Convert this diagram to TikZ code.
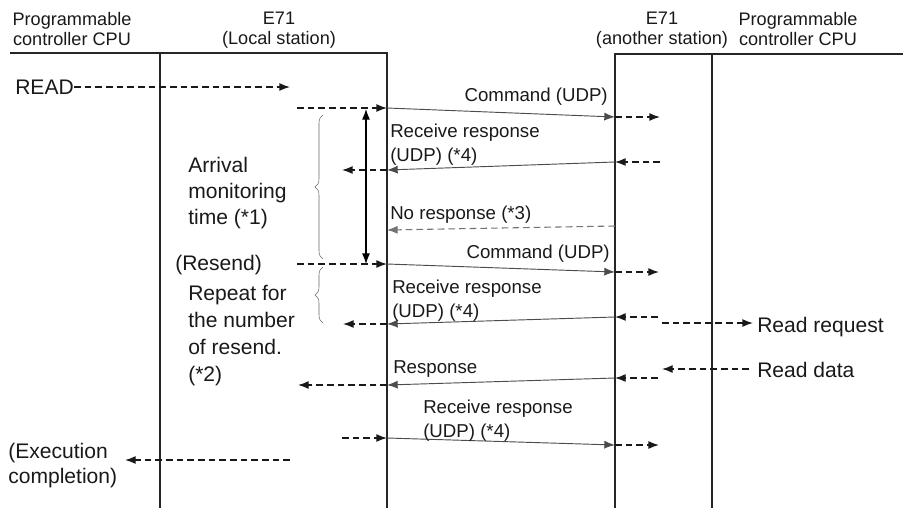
\documentclass[tikz,border=0pt]{standalone}
\usepackage{fontspec}
\setmainfont{Liberation Sans}
\usetikzlibrary{arrows.meta,decorations.pathreplacing}

\begin{document}
\begin{tikzpicture}[
x=0.75pt, y=-0.75pt,
>={Latex[length=8pt,width=6pt]},
every node/.style={inner sep=0pt, font=\fontsize{13.6}{15}\selectfont, text=black!90},
lifeline/.style={line width=2.2pt, black!85},
wire/.style={->, line width=0.7pt, black!70},
hop/.style={->, line width=1pt, dash pattern=on 5pt off 3pt, black!90},
lost/.style={hop, line width=0.8pt, black!55},
span/.style={decorate, decoration={brace, amplitude=6pt}, line width=0.4pt, black!60},
note/.style={align=left, font=\fontsize{15.8}{19.5}\selectfont},
label/.style={font=\fontsize{14}{15}\selectfont},
reply/.style={align=left, font=\fontsize{14}{18}\selectfont}
]
\useasboundingbox (0,0) rectangle (903,508);

% station headers
\node[align=center, anchor=north] (cpuL) at (72,12) {Programmable\\controller CPU};
\node[align=center, anchor=north] (local) at (279,12) {E71\\(Local station)};
\node[align=center, anchor=north] (other) at (662,12) {E71\\(another station)};
\node[align=center, anchor=north] (cpuR) at (798,12) {Programmable\\controller CPU};

% lifelines
\coordinate (barL) at (10,53);
\coordinate (locTop) at (387,53);
\coordinate (locBot) at (387,508);
\coordinate (cpuTop) at (160,53);
\coordinate (cpuBot) at (160,508);
\coordinate (othTop) at (615,54);
\coordinate (othBot) at (615,508);
\coordinate (barR) at (903,54);
\coordinate (remTop) at (712,54);
\coordinate (remBot) at (712,508);
\draw[lifeline] (barL) -- (locTop) -- (locBot);
\draw[lifeline] (cpuTop) -- (cpuBot);
\draw[lifeline] (othBot) -- (othTop) -- (barR);
\draw[lifeline] (remTop) -- (remBot);

% READ
\node[note, anchor=west] (read) at (15,87) {READ};
\coordinate (readTip) at (290,87);
\draw[hop] (read.east) -- (readTip);

% first command
\coordinate (cmdA) at (297,108);
\coordinate (cmdB) at (387,108);
\coordinate (cmdC) at (615,117);
\coordinate (cmdD) at (660,117);
\draw[hop] (cmdA) -- (cmdB);
\draw[wire] (cmdB) -- (cmdC);
\draw[hop] (cmdC) -- (cmdD);
\node[label, anchor=base east] (cmdText) at (608,101) {Command (UDP)};

% receive response
\coordinate (ackA) at (660,162);
\coordinate (ackB) at (615,162);
\coordinate (ackC) at (387,170);
\coordinate (ackD) at (342,170);
\draw[hop] (ackA) -- (ackB);
\draw[wire] (ackB) -- (ackC);
\draw[hop] (ackC) -- (ackD);
\node[reply, anchor=north west] (ackText) at (390,124) {Receive response\\(UDP) (*4)};

% arrival monitoring time
\coordinate (timeTop) at (366,109);
\coordinate (timeBot) at (366,264);
\draw[<->, line width=0.8pt] (timeTop) -- (timeBot);
\coordinate (braceTop) at (323,115);
\coordinate (braceBot) at (323,259);
\draw[span] (braceBot) -- (braceTop);
\node[note, anchor=north west] (arrival) at (188,157) {Arrival\\monitoring\\time (*1)};

% no response
\coordinate (lostA) at (615,226);
\coordinate (lostB) at (387,230);
\draw[lost] (lostA) -- (lostB);
\node[label, anchor=base west] (lostText) at (390,219) {No response (*3)};

% resend
\node[note, anchor=west] (resend) at (175,265) {(Resend)};
\coordinate (reA) at (297,264);
\coordinate (reB) at (387,264);
\coordinate (reC) at (615,272);
\coordinate (reD) at (659,272);
\draw[hop] (reA) -- (reB);
\draw[wire] (reB) -- (reC);
\draw[hop] (reC) -- (reD);
\node[label, anchor=base east] (reText) at (610,258) {Command (UDP)};

% receive response after resend
\coordinate (ack2A) at (658,317);
\coordinate (ack2B) at (615,317);
\coordinate (ack2C) at (387,324);
\coordinate (ack2D) at (343,324);
\draw[hop] (ack2A) -- (ack2B);
\draw[wire] (ack2B) -- (ack2C);
\draw[hop] (ack2C) -- (ack2D);
\node[reply, anchor=north west] (ack2Text) at (392,280) {Receive response\\(UDP) (*4)};
\coordinate (brace2Top) at (323,267);
\coordinate (brace2Bot) at (323,323);
\draw[span] (brace2Bot) -- (brace2Top);
\node[note, anchor=north west, font=\fontsize{15.8}{20.25}\selectfont] (repeat) at (188,285) {Repeat for\\the number\\of resend.\\(*2)};

% read request / read data
\coordinate (reqA) at (662,323);
\coordinate (reqB) at (753,323);
\draw[hop] (reqA) -- (reqB);
\node[note, anchor=base west] (reqText) at (757,332) {Read request};
\coordinate (datA) at (749,369);
\coordinate (datB) at (662,369);
\draw[hop] (datA) -- (datB);
\node[note, anchor=base west] (datText) at (757,377) {Read data};

% response
\coordinate (rspA) at (658,378);
\coordinate (rspB) at (615,378);
\coordinate (rspC) at (387,385);
\coordinate (rspD) at (298,385);
\draw[hop] (rspA) -- (rspB);
\draw[wire] (rspB) -- (rspC);
\draw[hop] (rspC) -- (rspD);
\node[label, anchor=base west] (rspText) at (393,373) {Response};

% final receive response
\coordinate (finA) at (342,438);
\coordinate (finB) at (387,438);
\coordinate (finC) at (615,445);
\coordinate (finD) at (659,445);
\draw[hop] (finA) -- (finB);
\draw[wire] (finB) -- (finC);
\draw[hop] (finC) -- (finD);
\node[reply, anchor=north west] (finText) at (423,400) {Receive response\\(UDP) (*4)};

% execution completion
\coordinate (doneA) at (290,460);
\coordinate (doneB) at (125,460);
\draw[hop] (doneA) -- (doneB);
\node[note, anchor=north west, font=\fontsize{15.8}{18.75}\selectfont] (done) at (8,443) {(Execution\\completion)};

\end{tikzpicture}
\end{document}
